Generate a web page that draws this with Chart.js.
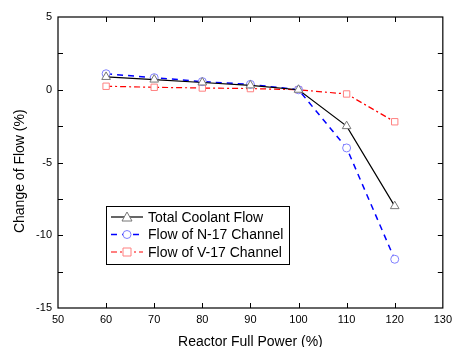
<!DOCTYPE html>
<html>
<head>
<meta charset="utf-8">
<script src="https://cdn.jsdelivr.net/npm/chart.js@4.4.0/dist/chart.umd.min.js"></script>
<style>
  html,body{margin:0;padding:0;background:#fff;}
  #wrap{width:457px;height:347px;}
</style>
</head>
<body>
<div id="wrap"><canvas id="myChart" width="457" height="347"></canvas></div>
<script>
// reactor power levels (%)
const powerLevels=[60,70,80,90,100,110,120];
const totalFlow=[0.88,0.70,0.50,0.30,0.0,-2.5,-8.0];
const n17Flow=[1.10,0.83,0.56,0.37,0.0,-4.0,-11.65];
const v17Flow=[0.24,0.17,0.12,0.08,0.0,-0.29,-2.2];
const seriesNames=["Total Coolant Flow","Flow of N-17 Channel","Flow of V-17 Channel"];
const xTicks=[50,60,70,80,90,100,110,120,130];
const yTicks=[-15,-10,-5,0,5];
const yTitle="Change of Flow (%)";

function pts(ys)
{
  let out=[];
  for(var i=0;i<powerLevels.length;i++)
  out.push({x:powerLevels[i],y:ys[i]});
  return out;
}

// frame + inward ticks on all four sides, y title sits a bit below centre
const framePlugin={
  id:'frame',
  afterDraw(chart){
    const ctx=chart.ctx;
    const a=chart.chartArea;
    const xs=chart.scales.x, ys=chart.scales.y;
    ctx.save();
    ctx.strokeStyle='#000';
    ctx.lineWidth=1.2;
    ctx.strokeRect(a.left,a.top,a.right-a.left,a.bottom-a.top);
    ctx.lineWidth=1;
    ctx.beginPath();
    for(var v=60;v<=120;v+=10){
      let px=Math.round(xs.getPixelForValue(v))+0.5;
      ctx.moveTo(px,a.bottom);ctx.lineTo(px,a.bottom-5);
      ctx.moveTo(px,a.top);ctx.lineTo(px,a.top+5);
    }
    for(var w=-12.5;w<=2.5;w+=2.5){
      let py=Math.round(ys.getPixelForValue(w))+0.5;
      ctx.moveTo(a.left,py);ctx.lineTo(a.left+5,py);
      ctx.moveTo(a.right,py);ctx.lineTo(a.right-5,py);
    }
    ctx.stroke();
    // y axis title
    ctx.translate(20,ys.getPixelForValue(-5.6));
    ctx.rotate(-Math.PI/2);
    ctx.fillStyle='#000';
    ctx.font='14px "Liberation Sans", Arial, sans-serif';
    ctx.textAlign='center';
    ctx.textBaseline='middle';
    ctx.fillText(yTitle,0,0);
    ctx.restore();
  }
};

// legend box like the original (line + marker + label)
const boxLegend={
  id:'boxLegend',
  afterDraw(chart){
    const ctx=chart.ctx;
    const x0=106,y0=206,w=183,h=58;
    ctx.save();
    ctx.fillStyle='#fff';
    ctx.fillRect(x0,y0,w,h);
    ctx.strokeStyle='#000';
    ctx.lineWidth=1;
    ctx.strokeRect(x0+0.5,y0+0.5,w,h);
    ctx.font='14px "Liberation Sans", Arial, sans-serif';
    ctx.textBaseline='middle';
    chart.data.datasets.forEach((ds,i)=>{
      const cy=y0+11+i*17.5;
      ctx.strokeStyle=ds.borderColor;
      ctx.lineWidth=ds.borderWidth;
      ctx.setLineDash(ds.borderDash||[]);
      ctx.beginPath();
      ctx.moveTo(x0+5,cy);ctx.lineTo(x0+37,cy);
      ctx.stroke();
      ctx.setLineDash([]);
      // marker
      ctx.fillStyle='#fff';
      ctx.strokeStyle=ds.pointBorderColor;
      ctx.lineWidth=1;
      const mx=x0+21;
      ctx.beginPath();
      if(ds.pointStyle==='triangle'){
        ctx.moveTo(mx,cy-5);ctx.lineTo(mx+5,cy+4);ctx.lineTo(mx-5,cy+4);ctx.closePath();
      }else if(ds.pointStyle==='circle'){
        ctx.arc(mx,cy,4,0,Math.PI*2);
      }else{
        ctx.rect(mx-4,cy-4,8,8);
      }
      ctx.fill();ctx.stroke();
      ctx.fillStyle='#000';
      ctx.fillText(ds.label,x0+42,cy+1);
    });
    ctx.restore();
  }
};

Chart.defaults.font.family='"Liberation Sans", Arial, sans-serif';
Chart.defaults.color='#000';

const ctx=document.getElementById('myChart').getContext('2d');
const myChart=new Chart(ctx,{
  type:'line',
  data:{
    datasets:[{
      label:seriesNames[0],
      data:pts(totalFlow),
      borderColor:'#000',
      borderWidth:1.2,
      pointStyle:'triangle',
      pointRadius:5,
      pointBackgroundColor:'#fff',
      pointBorderColor:'#777',
      pointBorderWidth:1
    },{
      label:seriesNames[1],
      data:pts(n17Flow),
      borderColor:'#0000ff',
      borderWidth:1.5,
      borderDash:[6,5],
      pointStyle:'circle',
      pointRadius:4,
      pointBackgroundColor:'#fff',
      pointBorderColor:'#8080ff',
      pointBorderWidth:1
    },{
      label:seriesNames[2],
      data:pts(v17Flow),
      borderColor:'#ff0000',
      borderWidth:1.2,
      borderDash:[6,3,2,3],
      pointStyle:'rect',
      pointRadius:4.5,
      pointBackgroundColor:'#fff',
      pointBorderColor:'#ff8080',
      pointBorderWidth:1
    }]
  },
  options:{
    responsive:false,
    animation:false,
    layout:{padding:{top:17,right:9,left:0,bottom:0}},
    plugins:{legend:{display:false},tooltip:{enabled:false}},
    scales:{
      x:{
        type:'linear',
        min:50,max:130,
        afterBuildTicks(s){s.ticks=xTicks.map(v=>({value:v}));},
        afterFit(s){s.height=39;},
        grid:{display:false,drawTicks:false},
        border:{display:false},
        ticks:{font:{size:11},padding:5,maxRotation:0},
        title:{display:true,text:'Reactor Full Power (%)',font:{size:14,lineHeight:1},padding:{top:0,bottom:-2}}
      },
      y:{
        type:'linear',
        min:-15,max:5,
        afterBuildTicks(s){s.ticks=yTicks.map(v=>({value:v}));},
        afterFit(s){s.width=58;},
        grid:{display:false,drawTicks:false},
        border:{display:false},
        ticks:{font:{size:11},padding:6},
        title:{display:false}
      }
    }
  },
  plugins:[framePlugin,boxLegend]
});
</script>
</body>
</html>
